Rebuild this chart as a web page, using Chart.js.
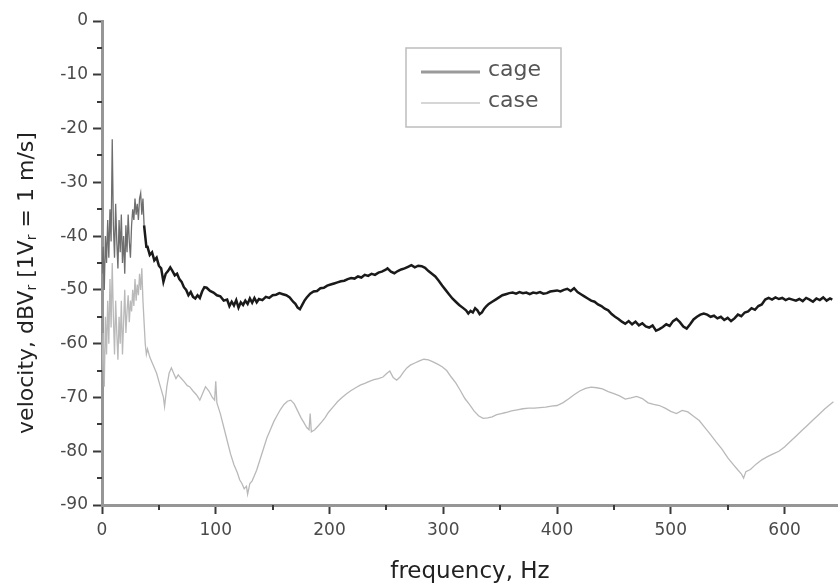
<!DOCTYPE html>
<html>
<head>
<meta charset="utf-8">
<script src="https://cdn.jsdelivr.net/npm/chart.js@4/dist/chart.umd.min.js"></script>
<style>
  html, body { margin: 0; padding: 0; background: #fff; }
  #c { display: block; }
</style>
</head>
<body>
<canvas id="c" width="838" height="588"></canvas>
<script>
// ---- data ----
const seriesNames = ['cage', 'case'];

const cageHz = [0,1,2,3,4,5,6,7,8,9,10,11,12,13,14,15,16,17,18,19,20,21,22,23,24,25,26,27,28,29,30,31,32,33,34,35,36,37,38,39,
  40,42,44,46,48,50,52,54,56,58,60,62,64,66,68,70,72,74,76,78,80,82,84,86,88,90,92,95,98,101,104,107,110,112,114,116,118,120,122,124,126,128,130,132,134,136,138,141,144,147,150,153,156,159,162,165,168,170,172,174,176,178,180,183,186,189,192,195,198,201,204,207,210,213,216,219,222,225,228,231,234,237,240,243,246,249,251,254,257,260,263,266,269,272,275,278,281,284,287,290,293,296,299,302,305,308,311,314,317,320,322,324,326,328,330,332,334,336,338,340,343,346,349,352,355,358,361,364,367,370,373,376,379,382,385,388,391,394,397,400,403,406,409,412,415,418,421,424,427,430,433,436,439,442,445,448,451,454,457,460,463,466,469,472,475,478,481,484,487,490,493,496,499,502,505,508,511,514,517,520,523,526,529,532,535,538,541,544,547,550,553,556,559,562,565,568,571,574,577,580,583,586,589,592,595,598,601,604,607,610,613,616,619,622,625,628,631,634,637,640,642];
const cageDb = [-47,-42,-50,-40,-45,-37,-44,-35,-41,-22,-38,-44,-34,-41,-46,-37,-43,-36,-45,-40,-47,-38,-43,-36,-41,-44,-38,-35,-37,-33,-36,-34,-37,-33,-32,-36,-33,-38,-40,-42,
  -42,-43.5,-43,-44.5,-44,-45.5,-46,-48.5,-47,-46.5,-45.8,-46.5,-47.3,-47,-48,-48.5,-49.5,-50,-51,-50.4,-51.3,-51.6,-51,-51.5,-50.3,-49.5,-49.6,-50.2,-50.5,-51,-51.2,-52,-51.8,-53,-52.2,-52.9,-51.9,-53.3,-52.3,-52.8,-52,-52.6,-51.6,-52.4,-51.5,-52.3,-51.7,-51.9,-51.3,-51.5,-51,-50.9,-50.6,-50.8,-51,-51.4,-52.2,-52.6,-53.3,-53.6,-52.8,-52,-51.4,-50.7,-50.3,-50.2,-49.7,-49.6,-49.2,-49,-48.8,-48.6,-48.4,-48.3,-48,-47.8,-47.9,-47.5,-47.7,-47.2,-47.4,-47,-47.2,-46.8,-46.6,-46.3,-46,-46.6,-46.9,-46.5,-46.2,-46,-45.7,-45.4,-45.8,-45.5,-45.6,-45.9,-46.5,-47,-47.5,-48.3,-49.2,-50,-50.8,-51.6,-52.2,-52.8,-53.3,-53.8,-54.4,-53.9,-54.2,-53.4,-53.8,-54.5,-54.2,-53.5,-53,-52.6,-52.2,-51.8,-51.4,-51,-50.8,-50.6,-50.5,-50.7,-50.4,-50.6,-50.5,-50.8,-50.5,-50.6,-50.4,-50.7,-50.6,-50.3,-50.2,-50.1,-50.3,-50,-49.8,-50.2,-49.7,-50.4,-50.8,-51.2,-51.6,-52,-52.2,-52.7,-53,-53.5,-53.8,-54.5,-55,-55.4,-55.9,-56.3,-55.8,-56.4,-55.9,-56.6,-56.2,-56.8,-57,-56.6,-57.6,-57.3,-56.9,-56.4,-56.7,-55.8,-55.4,-56,-56.8,-57.2,-56.4,-55.5,-55,-54.6,-54.4,-54.6,-55,-54.8,-55.3,-55,-55.6,-55.2,-55.8,-55.3,-54.6,-54.9,-54.2,-54,-53.4,-53.7,-53,-52.7,-51.8,-51.5,-51.8,-51.4,-51.7,-51.5,-51.9,-51.6,-51.8,-52,-51.7,-52.1,-51.5,-51.8,-52.2,-51.6,-51.9,-51.4,-52,-51.6,-51.8];

const caseHz = [0,1,2,3,4,5,6,7,8,9,10,11,12,13,14,15,16,17,18,19,20,21,22,23,24,25,26,27,28,29,30,31,32,33,34,35,36,37,38,39,
  40,42,44,46,48,50,52,54,55,57,59,61,63,65,67,69,72,75,77,80,83,86,89,91,94,97,99,100,101,104,107,110,113,116,119,121,123,125,127,128,130,132,134,136,139,142,145,148,151,154,157,160,163,166,169,172,175,177,180,182,183,184,187,190,193,196,199,203,207,211,215,219,223,227,231,235,239,243,247,250,253,256,259,262,265,268,271,275,279,283,287,291,295,299,303,307,311,315,319,323,327,331,335,339,343,347,351,355,360,365,370,375,380,385,390,395,400,405,410,415,420,425,430,435,440,445,450,455,460,465,470,475,480,485,490,495,500,505,510,515,520,525,530,535,540,545,550,555,559,562,564,566,570,575,580,585,590,595,600,605,610,615,620,625,630,635,640,643];
const caseDb = [-65,-58,-68,-55,-62,-52,-60,-48,-57,-45,-55,-62,-52,-58,-63,-55,-60,-52,-62,-56,-50,-58,-54,-51,-56,-52,-54,-50,-53,-48,-52,-49,-51,-47,-50,-46,-52,-56,-60,-62,
  -61,-62.5,-63.5,-64.5,-65.5,-67,-68.5,-70,-71.7,-68,-65.5,-64.5,-65.5,-66.5,-65.8,-66.3,-67,-67.8,-68,-68.8,-69.5,-70.5,-69,-68,-68.8,-70,-70.5,-67,-71,-73,-75.5,-78,-80.5,-82.5,-84,-85.3,-86,-87,-86.5,-88,-86,-85.5,-84.5,-83.5,-81.5,-79.5,-77.5,-76,-74.5,-73.3,-72.2,-71.3,-70.7,-70.5,-71.2,-72.5,-73.8,-74.5,-75.6,-76,-73,-76.4,-76,-75.3,-74.6,-73.8,-72.8,-71.8,-70.8,-70,-69.3,-68.7,-68.2,-67.7,-67.4,-67,-66.7,-66.5,-66.2,-65.6,-65.1,-66.3,-66.8,-66.2,-65.3,-64.5,-64,-63.6,-63.2,-62.9,-63,-63.4,-63.8,-64.3,-65,-66.2,-67.3,-68.7,-70.2,-71.3,-72.5,-73.4,-73.9,-73.8,-73.6,-73.2,-73,-72.8,-72.5,-72.3,-72.1,-72,-72,-71.9,-71.8,-71.6,-71.5,-71,-70.3,-69.5,-68.8,-68.3,-68.1,-68.2,-68.4,-68.9,-69.3,-69.7,-70.3,-70.1,-69.8,-70.2,-71,-71.3,-71.5,-72,-72.6,-73,-72.4,-72.7,-73.5,-74.3,-75.6,-76.9,-78.3,-79.6,-81.2,-82.5,-83.5,-84.2,-85,-83.8,-83.4,-82.4,-81.6,-81,-80.5,-80,-79.2,-78.2,-77.2,-76.2,-75.2,-74.2,-73.2,-72.2,-71.3,-70.8];

const xTickValues = [0, 100, 200, 300, 400, 500, 600];
const yTickValues = [0, -10, -20, -30, -40, -50, -60, -70, -80, -90];
const xMinorValues = [50, 150, 250, 350, 450, 550];
const yMinorValues = [-5, -15, -25, -35, -45, -55, -65, -75, -85];
const xTitle = 'frequency, Hz';
// y title pieces: [text, isSubscript]
const yTitleParts = [['velocity, dBV', false], ['r', true], [' [1V', false], ['r', true], [' = 1 m/s]', false]];

// ---- styles ----
const FONT = 'DejaVu Sans';
const lineColors = { cage: '#1a1a1a', case: '#b9b9b9' };
const lineWidths = { cage: 2.5, case: 1.3 };
const legendColors = { cage: '#9a9a9a', case: '#d6d6d6' };
const legendWidths = { cage: 3, case: 2 };

const toPoints = (xs, ys) => xs.map((x, i) => ({ x: x, y: ys[i] }));

const minorTicks = {
  id: 'minorTicks',
  afterDraw(chart) {
    const ctx = chart.ctx, xs = chart.scales.x, ys = chart.scales.y, a = chart.chartArea;
    ctx.save();
    ctx.strokeStyle = '#3a3a3a';
    ctx.lineWidth = 2;
    ctx.beginPath();
    xMinorValues.forEach(v => {
      const p = Math.round(xs.getPixelForValue(v));
      ctx.moveTo(p, a.bottom); ctx.lineTo(p, a.bottom + 5);
    });
    yMinorValues.forEach(v => {
      const p = Math.round(ys.getPixelForValue(v));
      ctx.moveTo(a.left, p); ctx.lineTo(a.left - 5, p);
    });
    ctx.stroke();
    ctx.restore();
  }
};

const yTitlePlugin = {
  id: 'yTitle',
  afterDraw(chart) {
    const ctx = chart.ctx;
    const main = '22px "' + FONT + '"', sub = '14px "' + FONT + '"';
    ctx.save();
    let total = 0;
    const widths = yTitleParts.map(([t, s]) => { ctx.font = s ? sub : main; const w = ctx.measureText(t).width; total += w; return w; });
    ctx.translate(25, 283);
    ctx.rotate(-Math.PI / 2);
    ctx.fillStyle = '#222';
    ctx.textBaseline = 'alphabetic';
    ctx.textAlign = 'left';
    let x = -total / 2;
    yTitleParts.forEach(([t, s], i) => {
      ctx.font = s ? sub : main;
      ctx.fillText(t, x, s ? 11 : 8);
      x += widths[i];
    });
    ctx.restore();
  }
};

const boxLegend = {
  id: 'boxLegend',
  afterDraw(chart) {
    const ctx = chart.ctx;
    const bx = 406, by = 48, bw = 155, bh = 79;
    ctx.save();
    ctx.fillStyle = '#fff';
    ctx.fillRect(bx, by, bw, bh);
    ctx.strokeStyle = '#bdbdbd';
    ctx.lineWidth = 1.5;
    ctx.strokeRect(bx, by, bw, bh);
    const rows = [72, 103];
    seriesNames.forEach((name, i) => {
      const y = rows[i];
      ctx.strokeStyle = legendColors[name];
      ctx.lineWidth = legendWidths[name];
      ctx.beginPath();
      ctx.moveTo(421, y); ctx.lineTo(480, y);
      ctx.stroke();
      ctx.fillStyle = '#555';
      ctx.font = '22px "' + FONT + '"';
      ctx.textBaseline = 'middle';
      ctx.textAlign = 'left';
      ctx.fillText(name, 488, y - 2);
    });
    ctx.restore();
  }
};

new Chart(document.getElementById('c'), {
  type: 'line',
  data: {
    datasets: [
      { label: seriesNames[1], data: toPoints(caseHz, caseDb), borderColor: lineColors.case, borderWidth: lineWidths.case },
      { label: seriesNames[0], data: toPoints(cageHz, cageDb), borderColor: lineColors.cage, borderWidth: lineWidths.cage,
        segment: { borderColor: c => c.p1.parsed.x <= 37 ? '#6e6e6e' : undefined, borderWidth: c => c.p1.parsed.x <= 37 ? 1.3 : undefined } }
    ]
  },
  options: {
    responsive: false,
    animation: false,
    devicePixelRatio: 1,
    layout: { padding: { top: 21, right: 0, left: 0, bottom: 0 } },
    elements: { point: { radius: 0 }, line: { tension: 0 } },
    plugins: { legend: { display: false }, tooltip: { enabled: false } },
    scales: {
      x: {
        type: 'linear', min: 0, max: 647,
        afterBuildTicks: s => { s.ticks = xTickValues.map(v => ({ value: v })); },
        afterFit: s => { s.height = 83; },
        ticks: { font: { family: FONT, size: 17 }, color: '#4a4a4a', padding: 6, maxRotation: 0 },
        grid: { drawOnChartArea: false, drawTicks: true, tickLength: 9, tickColor: '#3a3a3a', tickWidth: 2 },
        border: { display: true, color: '#969696', width: 3 },
        title: { display: true, text: xTitle, font: { family: FONT, size: 23 }, color: '#222', padding: { top: 0, bottom: 2 } }
      },
      y: {
        min: -90, max: 0,
        afterBuildTicks: s => { s.ticks = yTickValues.slice().reverse().map(v => ({ value: v })); },
        afterFit: s => { s.width = 102; },
        ticks: { font: { family: FONT, size: 17 }, color: '#4a4a4a', padding: 5 },
        grid: { drawOnChartArea: false, drawTicks: true, tickLength: 9, tickColor: '#3a3a3a', tickWidth: 2 },
        border: { display: true, color: '#969696', width: 3 },
        title: { display: false }
      }
    }
  },
  plugins: [minorTicks, yTitlePlugin, boxLegend]
});
</script>
</body>
</html>
